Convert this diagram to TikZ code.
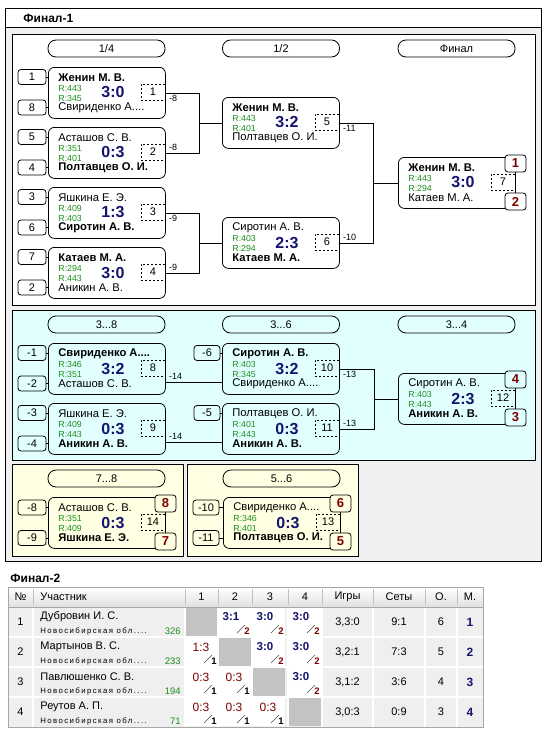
\documentclass[tikz,border=0pt]{standalone}
\usepackage{fontspec}
\setmainfont{Liberation Sans}
\usetikzlibrary{calc}
\definecolor{navy}{RGB}{20,20,110}
\definecolor{rgreen}{RGB}{30,140,30}
\definecolor{maroon}{RGB}{128,0,0}
\definecolor{cyanbg}{RGB}{226,255,255}
\definecolor{yelbg}{RGB}{255,255,228}
\definecolor{framebg}{RGB}{240,240,240}
\definecolor{cellbg}{RGB}{239,239,239}
\definecolor{diagbg}{RGB}{195,195,195}
\newcommand{\Mch}[9]{%
  \node[matchbox] (#1) at (#2,#3) {};
  \node[nm] (#1a) at (#2+10,#3+11) {#4};
  \node[rt] (#1b) at (#2+10,#3+21) {#5};
  \node[rt] (#1c) at (#2+10,#3+31) {#6};
  \node[nm] (#1d) at (#2+10,#3+41) {#8};
  \node[sc] (#1e) at (#2+65,#3+25.5) {#7};
  \node[dbox] (#1f) at (#2+105,#3+25) {#9};
}
\newcommand{\Wn}[5]{%
  \fill[white] (#2+1,#3+1) rectangle (#2+33,#3+29);
  \node[inner sep=0pt, text=navy, font=\fontsize{11.5}{12}\selectfont\bfseries] (#1) at (#2+13,#3+10) {#4};
  \draw[line width=0.5pt, black!70] (#2+19,#3+26) -- (#2+27,#3+18);
  \node[inner sep=0pt, text=maroon, font=\fontsize{9.5}{10}\selectfont\bfseries] (#1n) at (#2+29,#3+24) {#5};
}
\newcommand{\Ls}[5]{%
  \fill[white] (#2+1,#3+1) rectangle (#2+33,#3+29);
  \node[inner sep=0pt, text=maroon, font=\fontsize{12}{12}\selectfont] (#1) at (#2+16,#3+10) {#4};
  \draw[line width=0.5pt, black!70] (#2+19,#3+26) -- (#2+27,#3+18);
  \node[inner sep=0pt, text=black, font=\fontsize{9.5}{10}\selectfont\bfseries] (#1n) at (#2+29,#3+24) {#5};
}
\newcommand{\Dg}[2]{\fill[diagbg] (#1+1,#2+1) rectangle (#1+33,#2+29);}
\newcommand{\Row}[9]{%
  \node[tx] (#1no) at (20.5,#2+15) {#3};
  \node[tx,anchor=west] (#1nm) at (40,#2+10) {#4};
  \node[reg] (#1rg) at (40,#2+24) {Новосибирская обл....};
  \node[tx,anchor=east,text=rgreen,font=\fontsize{9.5}{10}\selectfont] (#1rt) at (181,#2+24) {#5};
  \node[tx] (#1g) at (347.5,#2+15) {#6};
  \node[tx] (#1s) at (399,#2+15) {#7};
  \node[tx] (#1o) at (441,#2+15) {#8};
  \node[tx,text=navy,font=\fontsize{12}{12}\selectfont\bfseries] (#1m) at (470,#2+15) {#9};
}
\begin{document}
\begin{tikzpicture}[x=1pt,y=-1pt, line width=0.8pt,
 matchbox/.style={draw, rounded corners=6pt, minimum width=117pt, minimum height=51pt, inner sep=0pt, anchor=north west},
 nm/.style={anchor=west, inner sep=0pt, font=\fontsize{11.2}{12}\selectfont},
 rt/.style={anchor=west, inner sep=0pt, text=rgreen, font=\fontsize{8.8}{9}\selectfont},
 sc/.style={inner sep=0pt, text=navy, font=\fontsize{16}{16}\selectfont\bfseries},
 dbox/.style={draw, dash pattern=on 2pt off 2pt, minimum width=24pt, minimum height=16pt, inner sep=0pt, font=\fontsize{11}{12}\selectfont},
 seed/.style={draw, rounded corners=3pt, minimum width=28pt, minimum height=15pt, inner sep=0pt, font=\fontsize{11}{12}\selectfont},
 pill/.style={draw, rounded corners=8pt, minimum width=117pt, minimum height=17pt, inner sep=0pt, font=\fontsize{11}{12}\selectfont},
 place/.style={draw, rounded corners=3pt, minimum width=21pt, minimum height=17pt, inner sep=0pt, text=maroon, font=\fontsize{13}{13}\selectfont\bfseries},
 lbl/.style={inner sep=0pt, font=\fontsize{9}{10}\selectfont},
 tx/.style={inner sep=0pt, font=\fontsize{11}{12}\selectfont},
 th/.style={inner sep=0pt, font=\fontsize{11}{12}\selectfont},
 reg/.style={anchor=west, inner sep=0pt, font=\fontsize{7.8}{8}\selectfont\addfontfeatures{LetterSpace=18}},
]
\useasboundingbox (0,0) rectangle (555,731);
\fill[white] (0,0) rectangle (555,731);
% frame
\draw[fill=white] (5,8) rectangle (541,27);
\node[anchor=west, inner sep=0pt, font=\fontsize{12}{12}\selectfont\bfseries] (t1) at (23,18) {Финал-1};
\draw[fill=framebg] (5,27) rectangle (541,561);
\draw[fill=white, line width=1pt] (12,34) rectangle (535,305);
\draw[fill=cyanbg, line width=1pt] (12,310) rectangle (535,460);
\draw[fill=yelbg] (12,464) rectangle (183,556);
\draw[fill=yelbg] (187,464) rectangle (358,556);
% headers
\node[pill] (h1) at (106.5,48.5) {1/4};
\node[pill] (h2) at (281,48.5) {1/2};
\node[pill] (h3) at (456.5,48.5) {Финал};
\node[pill] (h4) at (106.5,324.5) {3...8};
\node[pill] (h5) at (281,324.5) {3...6};
\node[pill] (h6) at (456.5,324.5) {3...4};
\node[pill] (h7) at (106.5,478.5) {7...8};
\node[pill] (h8) at (281.5,478.5) {5...6};
% matches, white panel
\Mch{m1}{48}{67}{\bfseries Женин М. В.}{R:443}{R:345}{3:0}{Свириденко А....}{1}
\Mch{m2}{48}{127}{Асташов С. В.}{R:351}{R:401}{0:3}{\bfseries Полтавцев О. И.}{2}
\Mch{m3}{48}{187}{Яшкина Е. Э.}{R:409}{R:403}{1:3}{\bfseries Сиротин А. В.}{3}
\Mch{m4}{48}{247}{\bfseries Катаев М. А.}{R:294}{R:443}{3:0}{Аникин А. В.}{4}
\Mch{m5}{222}{97}{\bfseries Женин М. В.}{R:443}{R:401}{3:2}{Полтавцев О. И.}{5}
\Mch{m6}{222}{217}{Сиротин А. В.}{R:403}{R:294}{2:3}{\bfseries Катаев М. А.}{6}
\Mch{m7}{398}{157}{\bfseries Женин М. В.}{R:443}{R:294}{3:0}{Катаев М. А.}{7}
% seeds white
\node[seed] (s1) at (32,77) {1};
\node[seed] (s2) at (32,107.5) {8};
\node[seed] (s3) at (32,137) {5};
\node[seed] (s4) at (32,167.5) {4};
\node[seed] (s5) at (32,197) {3};
\node[seed] (s6) at (32,227.5) {6};
\node[seed] (s7) at (32,257) {7};
\node[seed] (s8) at (32,287.5) {2};
\draw (s1.east) -- (s1.east -| m1.west);
\draw (s2.east) -- (s2.east -| m1.west);
\draw (s3.east) -- (s3.east -| m2.west);
\draw (s4.east) -- (s4.east -| m2.west);
\draw (s5.east) -- (s5.east -| m3.west);
\draw (s6.east) -- (s6.east -| m3.west);
\draw (s7.east) -- (s7.east -| m4.west);
\draw (s8.east) -- (s8.east -| m4.west);
% brackets white
\coordinate (bA) at (199,0);
\coordinate (bB) at (373,0);
\draw (m1.east) -- (m1.east -| bA) -- (m2.east -| bA) -- (m2.east);
\draw (m5.west -| bA) -- (m5.west);
\draw (m3.east) -- (m3.east -| bA) -- (m4.east -| bA) -- (m4.east);
\draw (m6.west -| bA) -- (m6.west);
\draw (m5.east) -- (m5.east -| bB) -- (m6.east -| bB) -- (m6.east);
\draw (m7.west -| bB) -- (m7.west);
\node[lbl,anchor=north west] (l1) at ($(m1.east)+(3,2)$) {-8};
\node[lbl,anchor=south west] (l2) at ($(m2.east)+(3,-2)$) {-8};
\node[lbl,anchor=north west] (l3) at ($(m3.east)+(3,2)$) {-9};
\node[lbl,anchor=south west] (l4) at ($(m4.east)+(3,-2)$) {-9};
\node[lbl,anchor=north west] (l5) at ($(m5.east)+(3,2)$) {-11};
\node[lbl,anchor=south west] (l6) at ($(m6.east)+(3,-2)$) {-10};
\node[place,fill=white] (p1) at (515.5,163.5) {1};
\node[place,fill=white] (p2) at (515.5,201.5) {2};
% cyan panel
\Mch{m8}{48}{343}{\bfseries Свириденко А....}{R:346}{R:351}{3:2}{Асташов С. В.}{8}
\Mch{m9}{48}{403}{Яшкина Е. Э.}{R:409}{R:443}{0:3}{\bfseries Аникин А. В.}{9}
\Mch{m10}{222}{343}{\bfseries Сиротин А. В.}{R:403}{R:345}{3:2}{Свириденко А....}{10}
\Mch{m11}{222}{403}{Полтавцев О. И.}{R:401}{R:443}{0:3}{\bfseries Аникин А. В.}{11}
\Mch{m12}{398}{373}{Сиротин А. В.}{R:403}{R:443}{2:3}{\bfseries Аникин А. В.}{12}
\node[seed] (s9) at (32,353) {-1};
\node[seed] (s10) at (32,383.5) {-2};
\node[seed] (s11) at (32,413) {-3};
\node[seed] (s12) at (32,443.5) {-4};
\node[seed,minimum width=26pt] (s13) at (207,353) {-6};
\node[seed,minimum width=26pt] (s14) at (207,413) {-5};
\draw (s9.east) -- (s9.east -| m8.west);
\draw (s10.east) -- (s10.east -| m8.west);
\draw (s11.east) -- (s11.east -| m9.west);
\draw (s12.east) -- (s12.east -| m9.west);
\draw (s13.east) -- (s13.east -| m10.west);
\draw (s14.east) -- (s14.east -| m11.west);
\draw ([yshift=-13pt]m8.east) -- ([yshift=-13pt]m8.east -| m10.west);
\draw ([yshift=-13pt]m9.east) -- ([yshift=-13pt]m9.east -| m11.west);
\coordinate (bC) at (374,0);
\draw (m10.east) -- (m10.east -| bC) -- (m11.east -| bC) -- (m11.east);
\draw (m12.west -| bC) -- (m12.west);
\node[lbl,anchor=south west] (l7) at ($(m8.east)+(3,11)$) {-14};
\node[lbl,anchor=south west] (l8) at ($(m9.east)+(3,11)$) {-14};
\node[lbl,anchor=north west] (l9) at ($(m10.east)+(3,2)$) {-13};
\node[lbl,anchor=south west] (l10) at ($(m11.east)+(3,-2)$) {-13};
\node[place,fill=cyanbg] (p3) at (515.5,379.5) {4};
\node[place,fill=cyanbg] (p4) at (515.5,417.5) {3};
% yellow panels
\Mch{m14}{48}{497}{Асташов С. В.}{R:351}{R:409}{0:3}{\bfseries Яшкина Е. Э.}{14}
\Mch{m13}{223}{497}{Свириденко А....}{R:346}{R:401}{0:3}{\bfseries Полтавцев О. И.}{13}
\node[seed] (s15) at (32,507.5) {-8};
\node[seed] (s16) at (32,538) {-9};
\node[seed,minimum width=26pt] (s17) at (206,507.5) {-10};
\node[seed,minimum width=26pt] (s18) at (206,538) {-11};
\draw (s15.east) -- (s15.east -| m14.west);
\draw (s16.east) -- (s16.east -| m14.west);
\draw (s17.east) -- (s17.east -| m13.west);
\draw (s18.east) -- (s18.east -| m13.west);
\node[place,fill=yelbg] (p5) at (165.5,503.5) {8};
\node[place,fill=yelbg] (p6) at (165.5,541.5) {7};
\node[place,fill=yelbg] (p7) at (340.5,503.5) {6};
\node[place,fill=yelbg] (p8) at (340.5,541.5) {5};
% Final-2 table
\node[anchor=west, inner sep=0pt, font=\fontsize{12}{12}\selectfont\bfseries] (t2) at (10,578) {Финал-2};
\shade[top color=white,bottom color=black!12] (8,587) rectangle (483,607);
\foreach \x in {33,185,218,252,288,322,373,425,457} \draw[black!25, line width=0.6pt] (\x,589) -- (\x,605);
\node[th] (hN) at (20.5,597) {№};
\node[th,anchor=west] (hU) at (40,597) {Участник};
\node[th] (hc1) at (201.5,597) {1};
\node[th] (hc2) at (235,597) {2};
\node[th] (hc3) at (270,597) {3};
\node[th] (hc4) at (305,597) {4};
\node[th] (hI) at (347.5,597) {Игры};
\node[th] (hS) at (399,597) {Сеты};
\node[th] (hO) at (441,597) {О.};
\node[th] (hM) at (470,597) {М.};
\fill[cellbg] (8,607) rectangle (483,727);
% row 1
\Dg{185}{607}
\Wn{r1c2}{218}{607}{3:1}{2}
\Wn{r1c3}{252}{607}{3:0}{2}
\Wn{r1c4}{288}{607}{3:0}{2}
% row 2
\Ls{r2c1}{185}{637}{1:3}{1}
\Dg{218}{637}
\Wn{r2c3}{252}{637}{3:0}{2}
\Wn{r2c4}{288}{637}{3:0}{2}
% row 3
\Ls{r3c1}{185}{667}{0:3}{1}
\Ls{r3c2}{218}{667}{0:3}{1}
\Dg{252}{667}
\Wn{r3c4}{288}{667}{3:0}{2}
% row 4
\Ls{r4c1}{185}{697}{0:3}{1}
\Ls{r4c2}{218}{697}{0:3}{1}
\Ls{r4c3}{252}{697}{0:3}{1}
\Dg{288}{697}
% grid
\foreach \y in {637,667,697} \draw[white, line width=1.5pt] (8,\y) -- (483,\y);
\foreach \x in {33,185,218,252,288,322,373,425,457} \draw[white, line width=1.5pt] (\x,607) -- (\x,727);
\draw[black!35, line width=0.8pt] (8,587) rectangle (483,727);
\draw[black!35, line width=0.6pt] (8,607) -- (483,607);
\Row{ra}{607}{1}{Дубровин И. С.}{326}{3,3:0}{9:1}{6}{1}
\Row{rb}{637}{2}{Мартынов В. С.}{233}{3,2:1}{7:3}{5}{2}
\Row{rc}{667}{3}{Павлюшенко С. В.}{194}{3,1:2}{3:6}{4}{3}
\Row{rd}{697}{4}{Реутов А. П.}{71}{3,0:3}{0:9}{3}{4}
\end{tikzpicture}
\end{document}
